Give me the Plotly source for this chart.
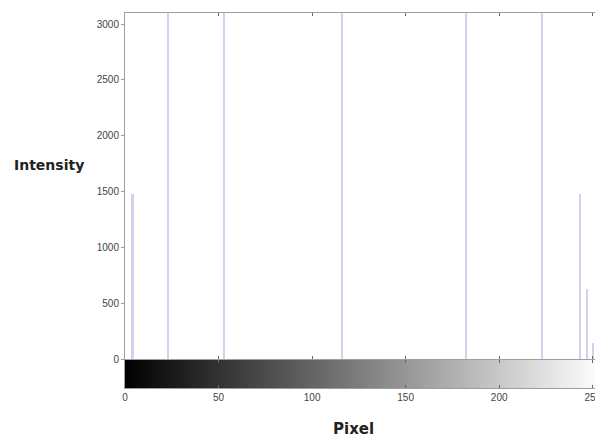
import plotly.graph_objects as go

# Data
pixel_values = [4, 23, 53, 116, 182, 223, 243, 247, 250]
counts = [1480, 3300, 3300, 3300, 3300, 3300, 1480, 630, 140]
gray_levels = list(range(256))
x_ticks = [0, 50, 100, 150, 200, 250]
y_ticks = [0, 500, 1000, 1500, 2000, 2500, 3000]

W, H = 595, 439
ml, mr, mt = 125, 0, 13
mb = H - 388
ph = H - mt - mb
pw = W - ml - mr

fig = go.Figure()
fig.add_trace(go.Bar(x=pixel_values, y=counts, width=1.1,
                     marker=dict(color="#d2d2f0", line=dict(width=0)),
                     xaxis="x", yaxis="y", showlegend=False))
fig.add_trace(go.Heatmap(x=gray_levels, y=[0.5], z=[gray_levels],
                         colorscale=[[0, "#000000"], [1, "#ffffff"]],
                         showscale=False, xaxis="x2", yaxis="y2", hoverinfo="skip"))

axis_common = dict(range=[0, 251.2], autorange=False, tickvals=x_ticks, showgrid=False,
                   zeroline=False, automargin=False,
                   showline=True, linecolor="#a0a0a0", linewidth=1,
                   ticks="inside", ticklen=3, tickcolor="#666", mirror="ticks")
cb_bottom = 0
cb_top = 28 / ph
main_bottom = 29 / ph

fig.update_layout(
    width=W, height=H,
    margin=dict(l=ml, r=mr, t=mt, b=mb, autoexpand=False),
    paper_bgcolor="white", plot_bgcolor="white",
    bargap=0,
    xaxis=dict(anchor="y", domain=[0, 1], showticklabels=False, **axis_common),
    xaxis2=dict(anchor="y2", domain=[0, 1], showticklabels=True, ticklabeloverflow="allow",
                tickfont=dict(family="Liberation Sans, Arial", size=10, color="#444"),
                **axis_common),
    yaxis=dict(domain=[main_bottom, 1], range=[0, 3100], autorange=False, tickvals=y_ticks,
               showgrid=False, zeroline=False, showline=True, linecolor="#a0a0a0",
               ticks="outside", ticklen=3, tickcolor="#999", automargin=False,
               tickfont=dict(family="Liberation Sans, Arial", size=10, color="#444")),
    yaxis2=dict(domain=[cb_bottom, cb_top], range=[0, 1], autorange=False, showticklabels=False,
                showgrid=False, zeroline=False, showline=True, linecolor="#a0a0a0",
                mirror=True, ticks="", automargin=False),
    annotations=[
        dict(text="<b>Intensity</b>", xref="paper", yref="paper",
             x=(12 - ml) / pw, y=(388 - 165) / ph, xanchor="left", yanchor="middle",
             showarrow=False, font=dict(family="DejaVu Sans", size=14, color="#222")),
        dict(text="<b>Pixel</b>", xref="paper", yref="paper",
             x=(353 - ml) / pw, y=(388 - 429) / ph, xanchor="center", yanchor="middle",
             showarrow=False, font=dict(family="DejaVu Sans", size=15, color="#222")),
    ],
)

fig.write_html("out.html", config={"displayModeBar": False},
               post_script="document.body.style.margin='0';document.body.style.overflow='hidden';")
